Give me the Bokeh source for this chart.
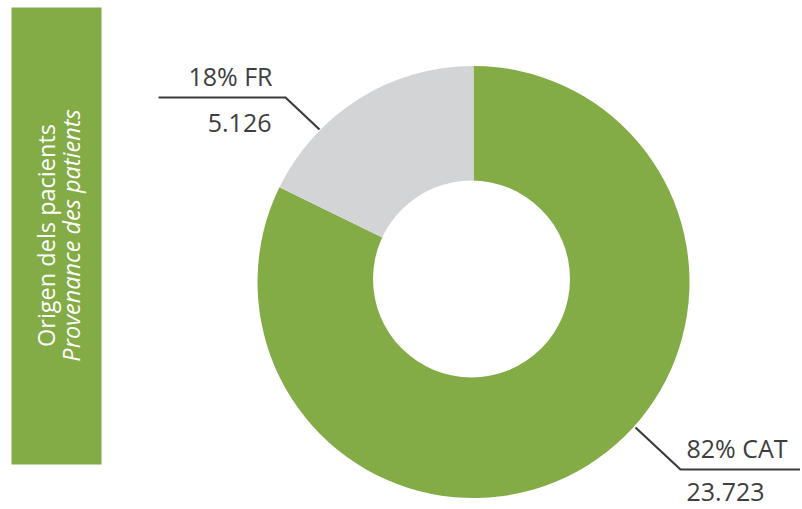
import math
from bokeh.plotting import figure
from bokeh.models import Range1d, ColumnDataSource
from bokeh.core.properties import value
from bokeh.embed import file_html
from bokeh.resources import INLINE

# ---- data ----
categories = ["CAT", "FR"]
patients = [23723, 5126]
labels_num = ["23.723", "5.126"]
colors = ["#84AC46", "#D3D4D6"]
title_ca = "Origen dels pacients"
title_fr = "Provenance des patients"

W, H = 800, 509
PAGE_H = 509

def Y(py):
    # page pixel y -> data y
    return PAGE_H - py

p = figure(width=W, height=H, output_backend="svg", toolbar_location=None,
           x_range=Range1d(0, W), y_range=Range1d(Y(H), Y(0)),
           min_border=0, background_fill_color="white")
p.axis.visible = False
p.grid.visible = False
p.outline_line_color = None

# left title bar
p.quad(left=[11], right=[101], top=[Y(7)], bottom=[Y(464)],
       fill_color="#84AC46", line_color=None)
p.text(x=[45], y=[Y(235)], text=[title_ca], angle=math.pi / 2,
       text_align="center", text_baseline="middle", text_color="white",
       text_font=value("Open Sans"), text_font_size="23.5px")
p.text(x=[70], y=[Y(235)], text=[title_fr], angle=math.pi / 2,
       text_align="center", text_baseline="middle", text_color="white",
       text_font=value("Open Sans"), text_font_size="23.5px",
       text_font_style="italic")

# donut
total = sum(patients)
cx, cy, r_out = 473, Y(281.5), 216
starts, ends = [], []
a = math.pi / 2
for v in patients:
    ang = 2 * math.pi * v / total
    # clockwise from 12 o'clock
    starts.append(a - ang)
    ends.append(a)
    a -= ang
src = ColumnDataSource(dict(cat=categories, val=patients, start=starts,
                            end=ends, color=colors))
p.wedge(x=cx, y=cy, radius=r_out, start_angle="start", end_angle="end",
        fill_color="color", line_color=None, source=src)
p.circle(x=[471], y=[Y(278.5)], radius=98.5, fill_color="white",
         line_color=None)

pct = [f"{round(100 * v / total)}% {c}" for v, c in zip(patients, categories)]

line_col = "#3C3C3C"
txt_col = "#3E3E3E"
FS = "25px"
# FR leader
p.line(x=[158, 285, 319], y=[Y(97), Y(97), Y(129)], line_color=line_col,
       line_width=2.2)
p.text(x=[272], y=[Y(75)], text=[pct[1]], text_align="right",
       text_baseline="alphabetic", text_color=txt_col,
       text_font=value("Open Sans"), text_font_size=FS)
p.text(x=[271], y=[Y(122)], text=[labels_num[1]], text_align="right",
       text_baseline="alphabetic", text_color=txt_col,
       text_font=value("Open Sans"), text_font_size=FS)
# CAT leader
p.line(x=[635, 680, 802], y=[Y(427), Y(469), Y(469)], line_color=line_col,
       line_width=2.2)
p.text(x=[686], y=[Y(447)], text=[pct[0]], text_align="left",
       text_baseline="alphabetic", text_color=txt_col,
       text_font=value("Open Sans"), text_font_size=FS)
p.text(x=[686], y=[Y(491.5)], text=[labels_num[0]], text_align="left",
       text_baseline="alphabetic", text_color=txt_col,
       text_font=value("Open Sans"), text_font_size=FS)

open("out.html", "w").write(file_html(p, INLINE))
